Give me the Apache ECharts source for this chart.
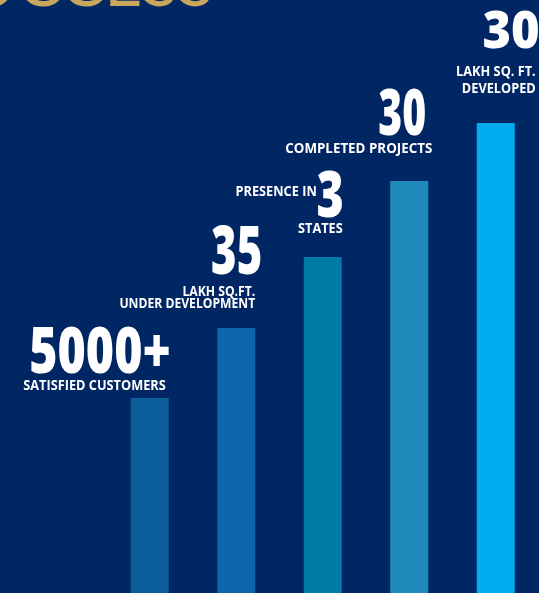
<!DOCTYPE html>
<html>
<head>
<meta charset="utf-8">
<style>
  html, body { margin: 0; padding: 0; background: #002663; }
  #chart { width: 539px; height: 593px; }
</style>
<script src="https://cdn.jsdelivr.net/npm/echarts@6/dist/echarts.min.js"></script>
</head>
<body>
<div id="chart"></div>
<script>
// ---- data ----
const categories = ['Satisfied Customers', 'Lakh Sq.Ft. Under Development', 'Presence in States', 'Completed Projects', 'Lakh Sq. Ft. Developed'];
const barHeights = [195, 265, 336, 412, 470];          // bar heights, px units of the infographic
const bigNumbers = ['5000+', '35', '3', '30', '30'];
const captionLines = [
  ['SATISFIED CUSTOMERS'],
  ['LAKH SQ.FT.', 'UNDER DEVELOPMENT'],
  ['PRESENCE IN', 'STATES'],
  ['COMPLETED PROJECTS'],
  ['LAKH SQ. FT.', 'DEVELOPED']
];
const headerWord = 'SUCCESS';

// ---- styles / layout (not data) ----
const BG = '#002663';
const barColors = ['#0b5e9a', '#0e67aa', '#007ba6', '#1e8bbb', '#00adef'];
const BAR_W = 38;
const NUM_FONT = '"Open Sans", "DejaVu Sans", sans-serif';
// per bar: number {dx: right edge from bar right, dy: cap-centre from bar top, cap: cap height, sx: scaleX}
// captions: size, scaleX, and {dx, dy} per line
const labelLayout = [
  { num: { dx: 2,  dy: -43,   cap: 46, sx: 0.75 }, capSize: 15, capSx: 0.85, caps: [{ dx: -3, dy: -12 }] },
  { num: { dx: 7,  dy: -73,   cap: 48, sx: 0.65 }, capSize: 13.5, capSx: 0.9, caps: [{ dx: 0, dy: -36 }, { dx: 0, dy: -23.5 }] },
  { num: { dx: 2,  dy: -57.5, cap: 45, sx: 0.74 }, capSize: 15, capSx: 0.85, caps: [{ dx: -25, dy: -65 }, { dx: 1, dy: -28.5 }] },
  { num: { dx: -2, dy: -63.5, cap: 45, sx: 0.65 }, capSize: 15, capSx: 0.89, caps: [{ dx: 4, dy: -32.5 }] },
  { num: { dx: 25, dy: -89,   cap: 36, sx: 0.97 }, capSize: 15, capSx: 0.85, caps: [{ dx: 21, dy: -51 }, { dx: 21, dy: -34 }] }
];

const chart = echarts.init(document.getElementById('chart'), null, { renderer: 'canvas' });

function renderLabels(params, api) {
  const i = params.dataIndex;
  const topPt = api.coord([api.value(0), api.value(1)]);
  const R = topPt[0] + BAR_W / 2;
  const T = topPt[1];
  const L = labelLayout[i];
  const children = [];
  const fsNum = L.num.cap / 0.714;
  children.push({
    type: 'text', x: R + L.num.dx, y: T + L.num.dy, scaleX: L.num.sx,
    style: {
      text: bigNumbers[i], x: 0, y: 0, fill: '#ffffff',
      font: '800 ' + fsNum.toFixed(1) + 'px ' + NUM_FONT,
      align: 'right', verticalAlign: 'middle'
    }
  });
  captionLines[i].forEach(function (line, k) {
    const c = L.caps[k];
    children.push({
      type: 'text', x: R + c.dx, y: T + c.dy, scaleX: L.capSx,
      style: {
        text: line, x: 0, y: 0, fill: '#ffffff',
        font: '700 ' + L.capSize + 'px ' + NUM_FONT,
        align: 'right', verticalAlign: 'middle'
      }
    });
  });
  return { type: 'group', children: children };
}

chart.setOption({
  backgroundColor: BG,
  animation: false,
  grid: { left: 106.5, width: 433.5, top: 0, bottom: 0, containLabel: false },
  xAxis: { type: 'category', data: categories, show: false },
  yAxis: { type: 'value', min: 0, max: 593, show: false },
  graphic: [{
    type: 'text', x: 214, y: -15.5,
    style: {
      text: headerWord, x: 0, y: 0, fill: '#c8a65c',
      font: '400 66px Lato, "Open Sans", sans-serif',
      align: 'right', verticalAlign: 'middle'
    },
    silent: true
  }],
  series: [
    {
      type: 'bar',
      barWidth: BAR_W,
      data: barHeights.map(function (v, i) {
        return { value: v, itemStyle: { color: barColors[i] } };
      }),
      silent: true
    },
    {
      type: 'custom',
      clip: false,
      renderItem: renderLabels,
      data: barHeights.map(function (v, i) { return [i, v]; }),
      silent: true,
      z: 5
    }
  ]
});
</script>
</body>
</html>
